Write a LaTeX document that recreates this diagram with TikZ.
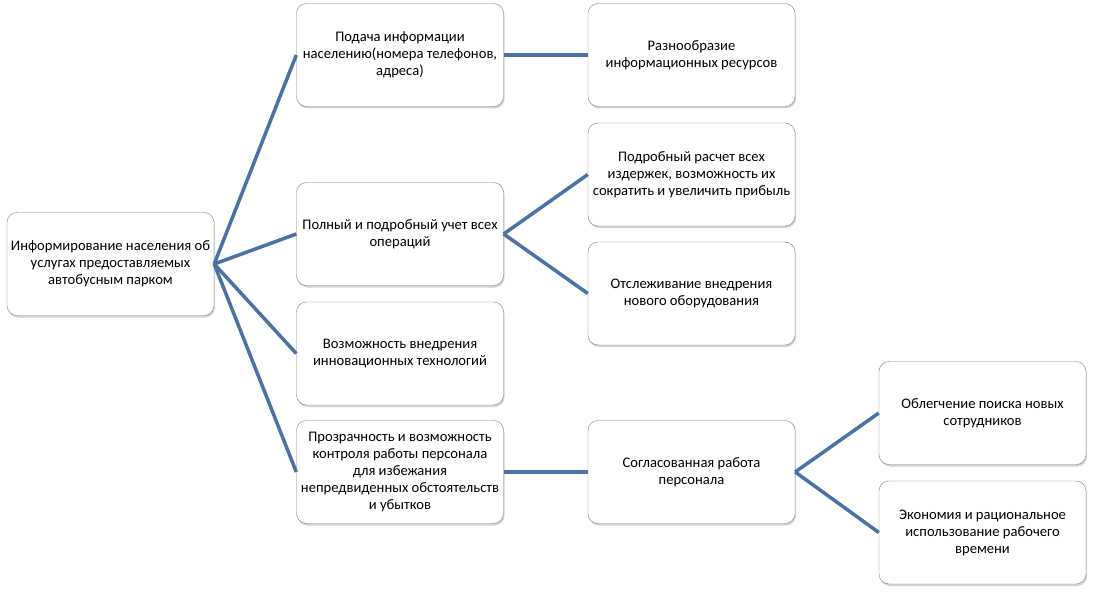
\documentclass[tikz,border=0pt]{standalone}
\usepackage{fontspec}
\setmainfont{Carlito}
\usetikzlibrary{shadows}
\definecolor{linkblue}{HTML}{4A72A6}
\definecolor{boxgray}{HTML}{7F7F7F}

\begin{document}
\begin{tikzpicture}[x=1pt,y=-1pt,
  box/.style={draw=boxgray, thin, rounded corners=10pt, fill=white,
    minimum width=207pt, minimum height=103pt, align=center,
    font=\fontsize{14.6}{17}\selectfont, inner xsep=1pt,
    drop shadow={opacity=0.35, shadow xshift=1pt, shadow yshift=-2pt}},
  link/.style={linkblue, line width=3.5pt}]

  % Frame
  \useasboundingbox (0,0) rectangle (1094,596);

  % Root
  \node[box] (root) at (110.5,264) {Информирование населения об\\услугах предоставляемых\\автобусным парком};

  % Second column
  \node[box] (supply) at (400,55) {Подача информации\\населению(номера телефонов,\\адреса)};
  \node[box] (account) at (400,234) {Полный и подробный учет всех\\операций};
  \node[box] (innov) at (400,353.5) {Возможность внедрения\\инновационных технологий};
  \node[box] (control) at (400,472) {Прозрачность и возможность\\контроля работы персонала\\для избежания\\непредвиденных обстоятельств\\и убытков};

  % Third column
  \node[box] (variety) at (691.5,55) {Разнообразие\\информационных ресурсов};
  \node[box] (costs) at (691.5,174.5) {Подробный расчет всех\\издержек, возможность их\\сократить и увеличить прибыль};
  \node[box] (equip) at (691.5,293.5) {Отслеживание внедрения\\нового оборудования};
  \node[box] (team) at (691.5,472) {Согласованная работа\\персонала};

  % Fourth column
  \node[box] (search) at (982.5,413) {Облегчение поиска новых\\сотрудников};
  \node[box] (saving) at (982.5,532.5) {Экономия и рациональное\\использование рабочего\\времени};

  % Links
  \foreach \from/\to in {root/supply, root/account, root/innov, root/control,
      supply/variety, account/costs, account/equip, control/team,
      team/search, team/saving} {
    \draw[link] (\from.east) -- (\to.west);
  }

\end{tikzpicture}
\end{document}
